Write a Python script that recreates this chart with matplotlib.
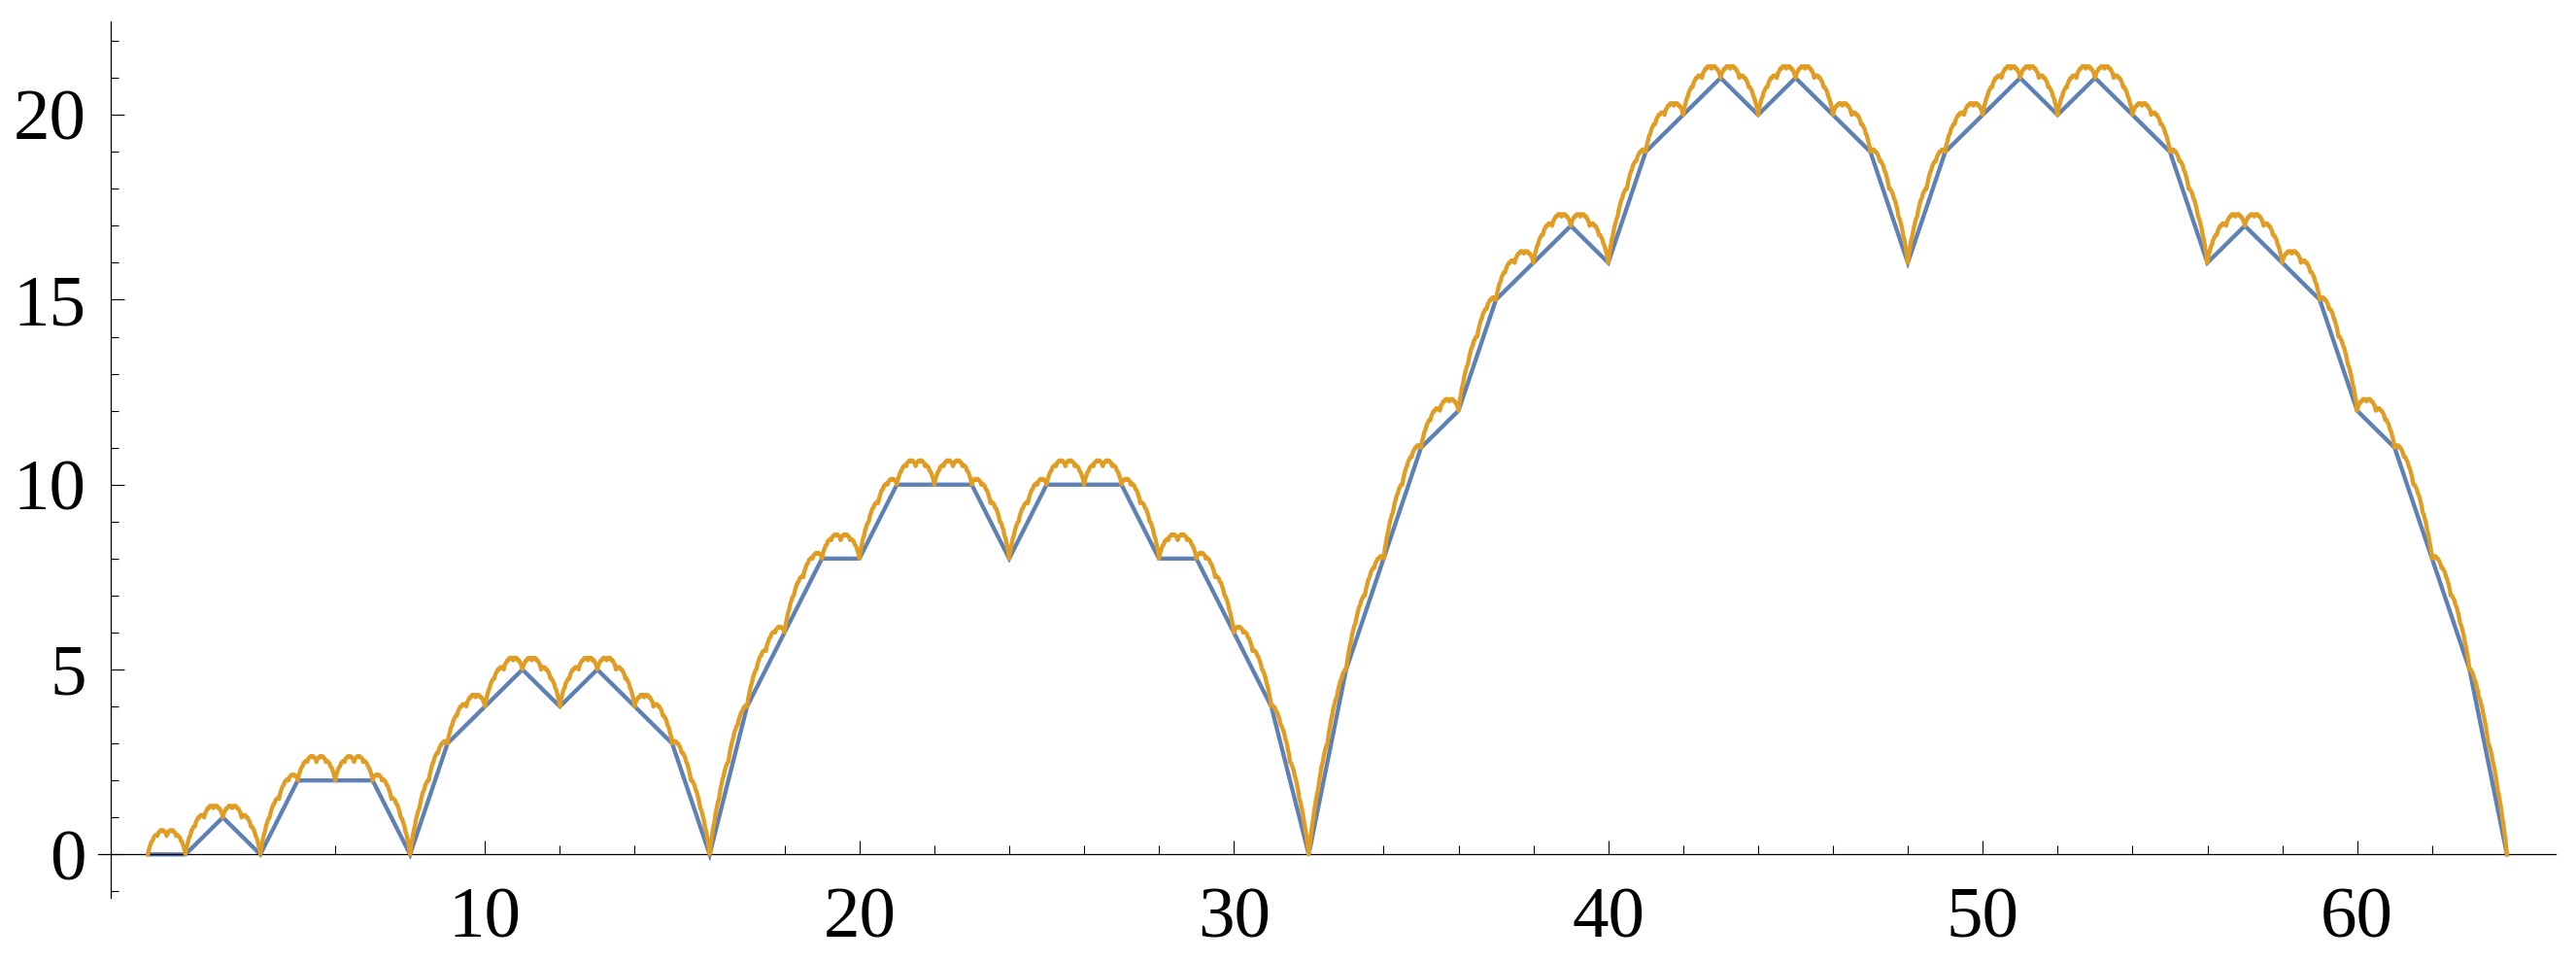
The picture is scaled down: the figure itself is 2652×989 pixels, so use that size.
import numpy as np
import matplotlib
matplotlib.use("Agg")
import matplotlib.pyplot as plt
from matplotlib.ticker import FixedLocator

# ---- data ----
x_points = list(range(1, 65))
blue_values = [0, 0, 1, 0, 2, 2, 2, 0,
               3, 4, 5, 4, 5, 4, 3, 0,
               4, 6, 8, 8, 10, 10, 10, 8, 10, 10, 10, 8, 8, 6, 4, 0,
               5, 8, 11, 12, 15, 16, 17, 16, 19, 20, 21, 20, 21, 20, 19, 16,
               19, 20, 21, 20, 21, 20, 19, 16, 17, 16, 15, 12, 11, 8, 5, 0]
# shape of the orange hump above the blue line on each unit step,
# sampled every 1/32 of a step (in 1/32 units of y)
hump_profile_32 = [0, 5, 8, 11, 12, 15, 16, 17, 16, 19, 20, 21, 20, 21, 20, 19, 16,
                   19, 20, 21, 20, 21, 20, 19, 16, 17, 16, 15, 12, 11, 8, 5, 0]
x_major = [10, 20, 30, 40, 50, 60]
y_major = [0, 5, 10, 15, 20]

# orange curve = blue segment + hump on every step
hump = np.array(hump_profile_32) / 32.0
frac = np.linspace(0, 1, len(hump))
ox, oy = [], []
for i in range(len(x_points) - 1):
    x0, x1 = x_points[i], x_points[i + 1]
    y0, y1 = blue_values[i], blue_values[i + 1]
    seg_x = x0 + frac * (x1 - x0)
    seg_y = y0 + frac * (y1 - y0) + hump
    if i > 0:
        seg_x, seg_y = seg_x[1:], seg_y[1:]
    ox.extend(seg_x)
    oy.extend(seg_y)

W, H = 2652, 989
fig = plt.figure(figsize=(W / 100, H / 100), dpi=100)
L, R, T, B = 101, 2631, 22.3, 924.3
ax = fig.add_axes([L / W, 1 - B / H, (R - L) / W, (B - T) / H])

blue = "#5E81B5"
orange = "#E19C24"
ax.plot(x_points, blue_values, color=blue, lw=3.1, solid_joinstyle="miter", zorder=2)
ax.plot(ox, oy, color=orange, lw=3.1, zorder=3)

ax.set_xlim(-0.332, 65.30)
ax.set_ylim(-1.183, 22.52)

for s in ["top", "right"]:
    ax.spines[s].set_visible(False)
ax.spines["left"].set_position(("data", 0))
ax.spines["bottom"].set_position(("data", 0))
for s in ["left", "bottom"]:
    ax.spines[s].set_linewidth(0.9)
    ax.spines[s].set_color("black")

ax.xaxis.set_major_locator(FixedLocator(x_major))
ax.xaxis.set_minor_locator(FixedLocator([v for v in range(2, 65, 2) if v % 10 != 0]))
ax.yaxis.set_major_locator(FixedLocator(y_major))
ax.yaxis.set_minor_locator(FixedLocator([v for v in range(-1, 23) if v % 5 != 0]))

ax.set_xticklabels([str(v) for v in x_major])
ax.set_yticklabels([str(v) for v in y_major])

ax.tick_params(axis="both", which="major", direction="in", length=10.3, width=0.8,
               color="black", labelsize=54)
ax.tick_params(axis="x", which="minor", direction="in", length=6.6, width=0.8, color="black")
ax.tick_params(axis="y", which="minor", direction="in", length=6.0, width=0.8, color="black")
ax.tick_params(axis="x", which="major", pad=24)
ax.tick_params(axis="y", which="major", pad=18)
for lab in ax.get_xticklabels() + ax.get_yticklabels():
    lab.set_fontfamily("Liberation Serif")

fig.savefig("out.png", dpi=100, facecolor="white")
